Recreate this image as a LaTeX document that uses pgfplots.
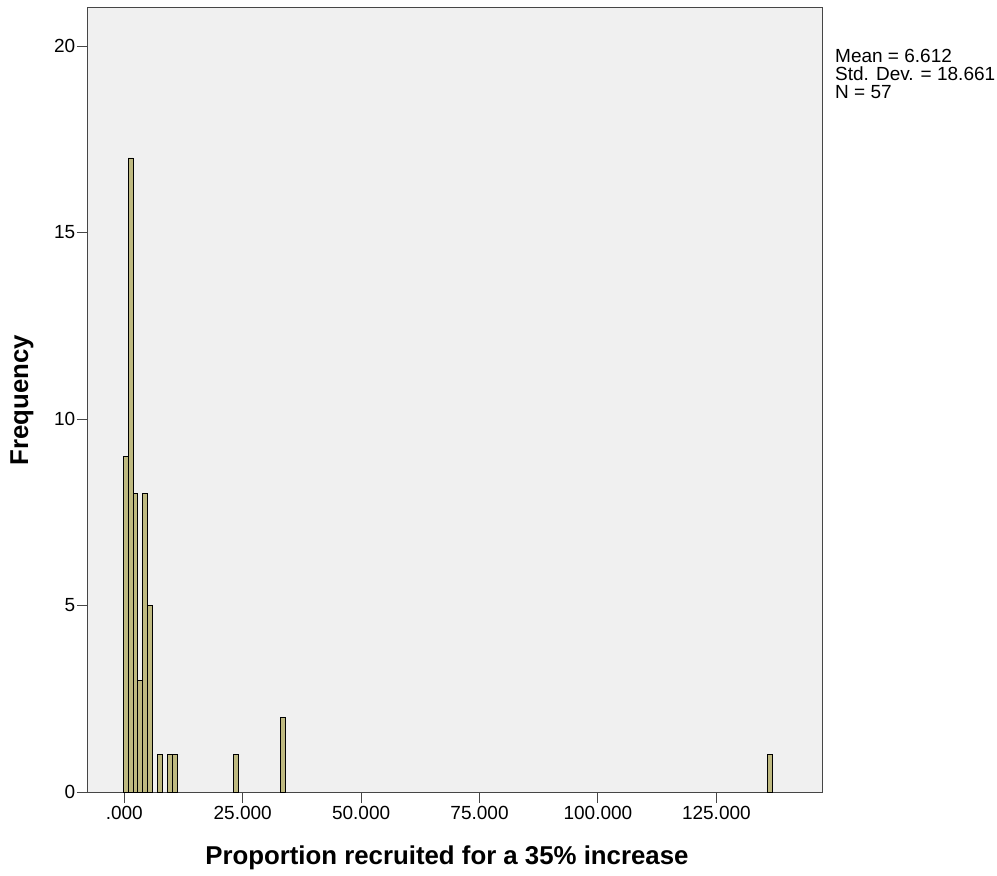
\documentclass[border=0pt]{standalone}
\usepackage{fontspec}
\setmainfont{Liberation Sans}
\usepackage{pgfplots}
\pgfplotsset{compat=1.18}
\definecolor{barfill}{RGB}{190,185,128}
\definecolor{bg}{RGB}{240,240,240}
\definecolor{frame}{RGB}{70,70,70}
\begin{document}
\begin{tikzpicture}
\path[use as bounding box] (-88pt,-84pt) rectangle (909pt,792pt);
\begin{axis}[
 at={(0pt,0pt)}, anchor=south west,
 scale only axis, width=734pt, height=784pt,
 xmin=-7.66, xmax=147.3, ymin=0, ymax=21.02,
 axis background/.style={fill=bg},
 axis line style={frame, line width=1pt},
 xtick={0,25,50,75,100,125},
 xticklabels={.000,25.000,50.000,75.000,100.000,125.000},
 ytick={0,5,10,15,20},
 tick align=outside, tick pos=left,
 major tick length=11pt,
 tick style={frame, line width=1pt},
 ticklabel style={font=\fontsize{19}{21}\selectfont},
 xticklabel style={inner sep=3pt},
 yticklabel style={inner sep=1.5pt},
 /pgf/number format/assume math mode=true,
 xlabel={Proportion recruited for a 35\% increase},
 ylabel={Frequency},
 label style={font=\bfseries\fontsize{25.8}{28}\selectfont},
 xlabel style={at={(axis description cs:0.489,-0.0842)}, anchor=center},
 ylabel style={at={(axis description cs:-0.0899,0.5)}, anchor=center},
 clip=false,
]
\addplot[ybar, bar width=1.03, fill=barfill, draw=black, line width=0.8pt] coordinates {
 (0.3,9) (1.33,17) (2.36,8) (3.39,3) (4.42,8) (5.45,5) (7.51,1) (9.57,1) (10.6,1)
 (23.48,1) (33.44,2) (136.3,1)
};
\node[anchor=base west, font=\fontsize{19}{21}\selectfont, inner sep=0pt, xshift=13pt, yshift=-55pt] at (rel axis cs:1,1) {Mean = 6.612};
\node[anchor=base west, font=\fontsize{19}{21}\selectfont, inner sep=0pt, xshift=13pt, yshift=-73pt] at (rel axis cs:1,1) {Std. Dev. = 18.661};
\node[anchor=base west, font=\fontsize{19}{21}\selectfont, inner sep=0pt, xshift=13pt, yshift=-91pt] at (rel axis cs:1,1) {N = 57};
\end{axis}
\end{tikzpicture}
\end{document}
